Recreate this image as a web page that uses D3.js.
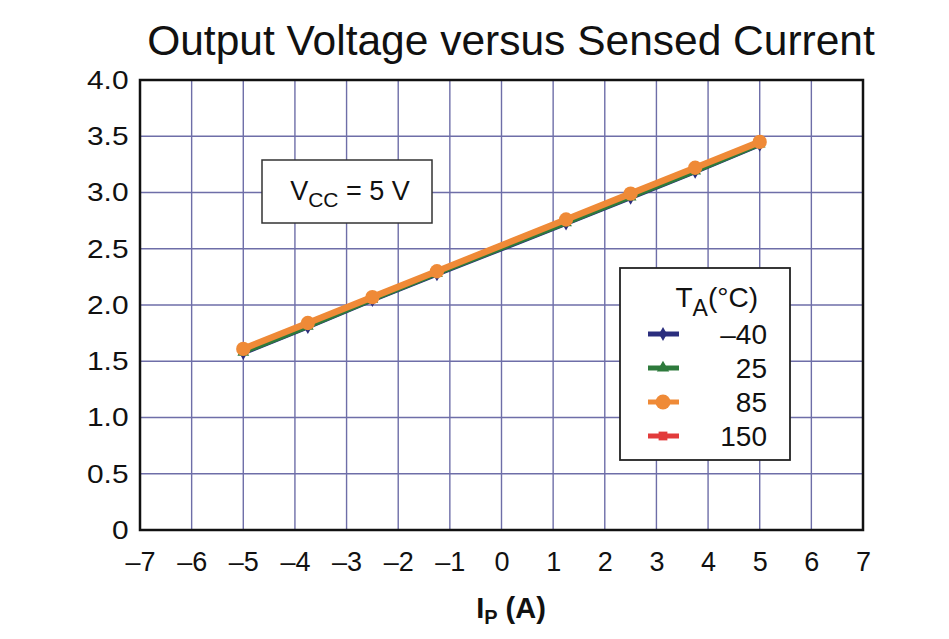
<!DOCTYPE html>
<html>
<head>
<meta charset="utf-8">
<script src="https://cdn.jsdelivr.net/npm/d3@7"></script>
<style>
  body { margin: 0; background: #fff; }
  text { font-family: "Liberation Sans", Arial, sans-serif; fill: #111; }
</style>
</head>
<body>
<div id="chart"></div>
<script>
// data
var currents = [-5, -3.75, -2.5, -1.25, 1.25, 2.5, 3.75, 5];
var temps = ["\u201340", "25", "85", "150"];
var vMinus40 = [1.57, 1.80, 2.04, 2.27, 2.72, 2.95, 3.18, 3.42];
var v25 = [1.58, 1.81, 2.05, 2.28, 2.73, 2.96, 3.19, 3.43];
var v85 = [1.61, 1.84, 2.07, 2.30, 2.76, 2.99, 3.22, 3.45];
var v150 = [1.61, 1.84, 2.07, 2.30, 2.76, 2.99, 3.22, 3.45];
var xTicks = [-7, -6, -5, -4, -3, -2, -1, 0, 1, 2, 3, 4, 5, 6, 7];
var yTicks = [0, 0.5, 1.0, 1.5, 2.0, 2.5, 3.0, 3.5, 4.0];

var width = 949, height = 639;
var mLeft = 140, mRight = 863, mTop = 80, mBottom = 530;

var svg = d3.select('#chart').append('svg')
    .attr('width', width)
    .attr('height', height);

var x = d3.scaleLinear().domain([-7, 7]).range([mLeft, mRight]);
var y = d3.scaleLinear().domain([0, 4]).range([mBottom, mTop]);

// title
svg.append('text')
    .attr('x', 511).attr('y', 55)
    .attr('text-anchor', 'middle')
    .style('font-size', '42.5px')
    .text('Output Voltage versus Sensed Current');

// grid
svg.append('g').selectAll('line')
    .data(xTicks.slice(1, -1))
    .enter().append('line')
    .attr('x1', function(d) { return x(d); })
    .attr('x2', function(d) { return x(d); })
    .attr('y1', mTop).attr('y2', mBottom)
    .style('stroke', '#6e6ea8').style('stroke-width', 1.4);

svg.append('g').selectAll('line')
    .data(yTicks.slice(1, -1))
    .enter().append('line')
    .attr('y1', function(d) { return y(d); })
    .attr('y2', function(d) { return y(d); })
    .attr('x1', mLeft).attr('x2', mRight)
    .style('stroke', '#6e6ea8').style('stroke-width', 1.4);

// axes labels
var xAxis = d3.axisBottom(x).tickValues(xTicks).tickSize(0).tickPadding(22)
    .tickFormat(function(d) { return d < 0 ? '\u2013' + (-d) : d; });
var gx = svg.append('g').attr('transform', 'translate(0,' + mBottom + ')').call(xAxis);
gx.select('.domain').remove();
gx.selectAll('text').style('font-size', '27px').style('font-family', '"Liberation Sans", Arial, sans-serif').attr('fill', '#111');

var yAxis = d3.axisLeft(y).tickValues(yTicks).tickSize(0).tickPadding(10)
    .tickFormat(function(d) { return d === 0 ? '0' : d3.format('.1f')(d); });
var gy = svg.append('g').attr('transform', 'translate(' + mLeft + ',0)').call(yAxis);
gy.select('.domain').remove();
gy.selectAll('text').style('font-size', '26px').style('font-family', '"Liberation Sans", Arial, sans-serif').attr('fill', '#111')
    .attr('transform', 'scale(1.15,1)');

// x axis title
var xt = svg.append('text')
    .attr('x', 511).attr('y', 618)
    .attr('text-anchor', 'middle')
    .style('font-size', '29px').style('font-weight', 'bold');
xt.append('tspan').text('I');
xt.append('tspan').attr('dy', 6).style('font-size', '20px').text('P');
xt.append('tspan').attr('dy', -6).text(' (A)');

// series
var series = [
  { name: temps[3], values: v150, color: '#e23b3b', shape: d3.symbolSquare, w: 5, size: 70 },
  { name: temps[0], values: vMinus40, color: '#2b2e7e', shape: d3.symbolDiamond, w: 4, size: 50 },
  { name: temps[1], values: v25, color: '#2e7a3c', shape: d3.symbolTriangle, w: 5, size: 60 },
  { name: temps[2], values: v85, color: '#ef8a37', shape: d3.symbolCircle, w: 6.5, size: 160 }
];

var line = d3.line()
    .x(function(d, i) { return x(currents[i]); })
    .y(function(d) { return y(d); });

series.forEach(function(s) {
  svg.append('path')
      .datum(s.values)
      .attr('d', line)
      .style('fill', 'none')
      .style('stroke', s.color)
      .style('stroke-width', s.w);
  svg.selectAll(null)
      .data(s.values)
      .enter().append('path')
      .attr('transform', function(d, i) { return 'translate(' + x(currents[i]) + ',' + y(d) + ')'; })
      .attr('d', d3.symbol().type(s.shape).size(s.size))
      .style('fill', s.color);
});

// plot border
svg.append('rect')
    .attr('x', mLeft).attr('y', mTop)
    .attr('width', mRight - mLeft).attr('height', mBottom - mTop)
    .style('fill', 'none').style('stroke', '#111').style('stroke-width', 2.5);

// Vcc box
svg.append('rect')
    .attr('x', 262).attr('y', 160).attr('width', 170).attr('height', 63)
    .style('fill', '#fff').style('stroke', '#333').style('stroke-width', 1.5);
var vt = svg.append('text').attr('x', 350).attr('y', 200)
    .attr('text-anchor', 'middle').style('font-size', '27px');
vt.append('tspan').text('V');
vt.append('tspan').attr('dy', 7).style('font-size', '21px').text('CC');
vt.append('tspan').attr('dy', -7).text(' = 5 V');

// legend
var legend = svg.append('g').attr('class', 'legend');
legend.append('rect')
    .attr('x', 620).attr('y', 268).attr('width', 170).attr('height', 192)
    .style('fill', '#fff').style('stroke', '#222').style('stroke-width', 1.8);
var lt = legend.append('text').attr('x', 758).attr('y', 307)
    .attr('text-anchor', 'end').style('font-size', '28px');
lt.append('tspan').text('T');
lt.append('tspan').attr('dy', 9).style('font-size', '23px').text('A');
lt.append('tspan').attr('dy', -9).text('(\u00b0C)');

var legendOrder = [series[1], series[2], series[3], series[0]];
var rows = legend.selectAll('.legend-row')
    .data(legendOrder)
    .enter().append('g')
    .attr('class', 'legend-row')
    .attr('transform', function(d, i) { return 'translate(0,' + (334 + i * 34) + ')'; });
rows.append('line')
    .attr('x1', 648).attr('x2', 679)
    .style('stroke', function(d) { return d.color; })
    .style('stroke-width', 5);
rows.append('path')
    .attr('transform', 'translate(663,0)')
    .attr('d', function(d) { return d3.symbol().type(d.shape).size(d.size * 1.1)(); })
    .style('fill', function(d) { return d.color; });
rows.append('text')
    .attr('x', 767).attr('y', 10)
    .attr('text-anchor', 'end')
    .style('font-size', '28px')
    .text(function(d) { return d.name; });
</script>
</body>
</html>
